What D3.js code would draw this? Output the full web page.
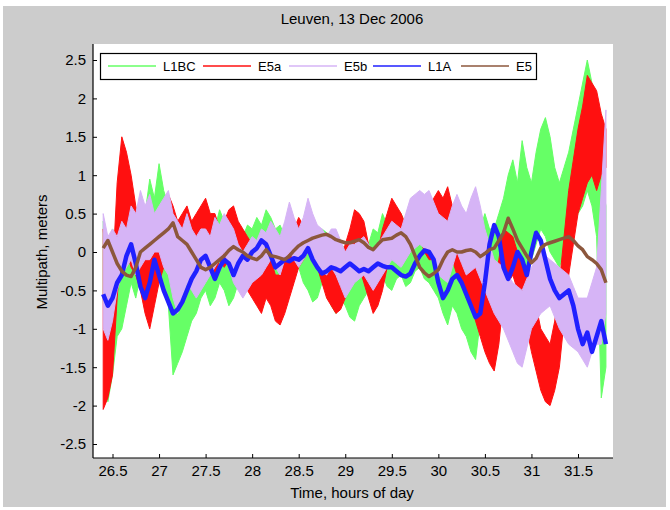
<!DOCTYPE html>
<html><head><meta charset="utf-8">
<script src="https://cdn.jsdelivr.net/npm/d3@7"></script>
<style>body{margin:0;background:#fff}svg{display:block}text{font-family:"Liberation Sans",Arial,sans-serif;fill:#000}</style>
</head><body>
<script>
// ---- data ----
const title = "Leuven, 13 Dec 2006";
const xLabel = "Time, hours of day";
const yLabel = "Multipath, meters";
const seriesNames = ["L1BC", "E5a", "E5b", "L1A", "E5"];
const seriesColors = ["#66ff66", "#ff1010", "#d6b4f6", "#2020ff", "#8c573c"];
const xTicks = [26.5, 27, 27.5, 28, 28.5, 29, 29.5, 30, 30.5, 31, 31.5];
const yTicks = [-2.5, -2, -1.5, -1, -0.5, 0, 0.5, 1, 1.5, 2, 2.5];

// sample times (hours), every 0.05 h
const tHours = [
  26.40,26.45,26.50,26.55,26.60,26.65,26.70,26.75,26.80,26.85,26.90,26.95,
  27.00,27.05,27.10,27.15,27.20,27.25,27.30,27.35,27.40,27.45,27.50,27.55,27.60,27.65,27.70,27.75,27.80,27.85,27.90,27.95,
  28.00,28.05,28.10,28.15,28.20,28.25,28.30,28.35,28.40,28.45,28.50,28.55,28.60,28.65,28.70,28.75,28.80,28.85,28.90,28.95,
  29.00,29.05,29.10,29.15,29.20,29.25,29.30,29.35,29.40,29.45,29.50,29.55,29.60,29.65,29.70,29.75,29.80,29.85,29.90,29.95,
  30.00,30.05,30.10,30.15,30.20,30.25,30.30,30.35,30.40,30.45,30.50,30.55,30.60,30.65,30.70,30.75,30.80,30.85,30.90,30.95,
  31.00,31.05,31.10,31.15,31.20,31.25,31.30,31.35,31.40,31.45,31.50,31.55,31.60,31.65,31.70,31.75,31.80];

// noisy signals: lower / upper envelope (meters)
const L1BC_lo = [
  -0.6,-1.95,-1.6,-1.1,-1.0,-0.7,-0.4,-0.6,-0.3,-0.5,-0.2,-0.4,
  -0.1,-0.5,-0.7,-1.6,-1.45,-1.3,-1.1,-0.9,-0.8,-0.6,-0.5,-0.7,-0.6,-0.4,-0.5,-0.7,-0.6,-0.4,-0.5,-0.3,
  -0.4,-0.5,-0.3,-0.35,-0.2,-0.4,-0.3,-0.45,-0.4,-0.3,-0.2,-0.4,-0.5,-0.65,-0.6,-0.4,-0.5,-0.7,-0.8,-0.6,
  -0.7,-0.85,-0.9,-0.7,-0.6,-0.5,-0.4,-0.5,-0.3,-0.45,-0.5,-0.35,-0.3,-0.45,-0.4,-0.25,-0.2,-0.35,-0.4,-0.5,
  -0.6,-0.8,-0.95,-0.7,-0.8,-1.0,-1.1,-1.3,-1.4,-0.9,-0.6,-0.8,-0.9,-0.5,-0.3,-0.1,0.1,-0.2,-0.4,-0.2,
  -0.1,0.1,0.3,0.2,0.0,-0.1,-0.2,0.0,0.2,0.3,0.5,0.6,0.8,0.6,0.2,-1.9,-1.5];
const L1BC_hi = [
  0.4,0.1,0.3,0.2,0.5,0.3,0.75,0.4,0.6,0.5,0.95,0.7,
  1.15,0.8,0.6,0.2,0.0,0.3,0.1,0.35,0.2,0.45,0.3,0.4,0.3,0.55,0.4,0.3,0.5,0.3,0.2,0.35,
  0.3,0.45,0.35,0.55,0.45,0.3,0.35,0.2,0.35,0.25,0.4,0.3,0.2,0.1,0.15,0.3,0.25,0.1,0.2,0.1,
  0.05,0.2,0.3,0.15,0.2,0.1,0.3,0.25,0.5,0.35,0.4,0.3,0.5,0.35,0.4,0.55,0.6,0.45,0.5,0.35,
  0.3,0.45,0.6,0.3,0.2,0.1,0.0,0.2,0.4,0.3,0.5,0.3,0.3,0.5,0.7,1.0,1.2,0.9,1.45,1.1,
  0.9,1.3,1.6,1.75,1.5,1.1,0.9,1.1,1.3,1.6,1.9,2.2,2.5,2.2,1.8,1.0,0.6];
const E5a_lo = [
  -2.05,-1.9,-1.6,-0.6,0.2,0.0,-0.2,-0.3,-0.5,-0.8,-1.0,-0.7,
  -0.4,-0.2,-0.1,-0.2,-0.3,-0.2,-0.1,-0.3,-0.3,0.0,0.1,-0.1,-0.3,-0.1,-0.2,-0.1,-0.2,-0.3,-0.3,-0.5,
  -0.6,-0.7,-0.8,-0.6,-0.7,-0.9,-0.95,-0.8,-0.6,-0.4,-0.2,-0.1,0.0,-0.1,-0.2,-0.4,-0.6,-0.7,-0.8,-0.75,
  -0.6,-0.3,-0.1,-0.2,-0.4,-0.6,-0.8,-0.7,-0.5,-0.2,0.0,-0.1,-0.1,0.0,0.0,0.1,0.2,0.0,-0.1,-0.1,
  0.0,0.1,0.1,-0.1,-0.3,-0.4,-0.6,-0.7,-0.9,-1.1,-1.3,-1.45,-1.55,-1.2,-0.6,-0.4,-0.3,-0.5,-0.8,-1.0,
  -1.3,-1.55,-1.8,-1.95,-2.0,-1.8,-1.5,-0.9,-0.3,0.1,0.5,0.7,0.9,1.0,0.8,1.0,1.1];
const E5a_hi = [
  0.3,-0.5,-0.3,0.9,1.5,1.3,1.0,0.6,0.3,0.2,0.1,0.2,
  0.3,0.5,0.75,0.6,0.4,0.5,0.6,0.4,0.5,0.6,0.7,0.5,0.5,0.3,0.4,0.55,0.6,0.4,0.3,0.2,
  0.1,-0.1,-0.2,0.0,-0.1,-0.3,-0.3,-0.1,0.1,0.3,0.45,0.35,0.55,0.4,0.3,0.25,0.2,0.1,0.0,-0.1,
  0.1,0.3,0.55,0.5,0.4,0.1,-0.2,0.0,0.3,0.5,0.7,0.6,0.5,0.35,0.4,0.6,0.75,0.65,0.6,0.7,
  0.8,0.7,0.85,0.6,0.5,0.3,0.2,0.1,0.0,-0.2,-0.3,-0.3,-0.4,-0.1,0.3,0.25,0.2,0.0,-0.1,-0.2,
  -0.4,-0.7,-1.0,-1.1,-1.2,-0.9,-0.4,0.2,0.8,1.2,1.6,1.9,2.3,2.2,2.1,1.8,1.6];
const E5b_lo = [
  -1.0,-1.15,-0.9,-0.5,-0.3,-0.2,-0.1,-0.3,-0.2,-0.1,-0.1,0.0,
  0.0,-0.2,-0.3,-0.6,-0.8,-0.6,-0.4,-0.5,-0.6,-0.5,-0.4,-0.3,-0.2,-0.1,0.0,-0.2,-0.4,-0.5,-0.6,-0.5,
  -0.4,-0.35,-0.3,-0.2,-0.1,-0.2,-0.3,-0.1,0.0,-0.1,-0.2,-0.1,0.0,-0.1,-0.2,-0.25,-0.3,-0.2,-0.3,-0.45,
  -0.6,-0.5,-0.4,-0.35,-0.3,-0.4,-0.5,-0.4,-0.3,-0.2,-0.1,-0.15,-0.2,-0.1,0.0,0.05,0.1,0.05,0.0,-0.15,
  -0.3,-0.35,-0.4,-0.2,0.0,-0.15,-0.3,-0.25,-0.2,-0.35,-0.5,-0.65,-0.8,-0.9,-1.0,-1.15,-1.3,-1.45,-1.5,-1.25,
  -1.0,-0.9,-0.8,-0.75,-0.7,-0.85,-1.0,-1.1,-1.2,-1.25,-1.3,-1.4,-1.5,-1.3,-1.2,-1.2,-0.8];
const E5b_hi = [
  0.5,0.2,0.3,0.2,0.4,0.3,0.6,0.5,0.8,0.6,0.75,0.5,
  0.6,0.7,0.8,0.5,0.4,0.3,0.5,0.3,0.2,0.3,0.3,0.2,0.45,0.35,0.5,0.4,0.3,0.1,0.0,0.1,
  0.2,0.15,0.3,0.25,0.4,0.3,0.2,0.4,0.65,0.45,0.3,0.45,0.7,0.5,0.35,0.3,0.2,0.3,0.3,0.15,
  0.0,0.1,0.1,0.15,0.2,0.1,0.0,0.1,0.2,0.3,0.4,0.35,0.3,0.5,0.7,0.75,0.8,0.75,0.8,0.65,
  0.5,0.45,0.4,0.6,0.75,0.6,0.5,0.7,0.85,0.6,0.3,0.1,-0.1,-0.15,-0.2,-0.3,-0.4,-0.45,-0.5,-0.35,
  -0.2,-0.1,0.0,-0.05,-0.1,-0.15,-0.2,-0.25,-0.3,-0.45,-0.6,-0.6,-0.6,-0.4,-0.2,0.8,1.85];

// smoother signals (meters)
const L1A = [
  -0.55,-0.7,-0.6,-0.4,-0.3,-0.05,0.1,-0.15,-0.45,-0.6,-0.4,-0.1,
  -0.3,-0.5,-0.65,-0.8,-0.75,-0.65,-0.5,-0.35,-0.25,-0.1,-0.05,-0.2,-0.35,-0.2,-0.1,-0.15,-0.3,-0.15,-0.05,-0.1,
  0.0,0.05,0.15,0.1,-0.05,-0.2,-0.15,-0.1,-0.12,-0.08,-0.1,-0.05,0.05,-0.1,-0.2,-0.28,-0.25,-0.2,-0.22,-0.25,
  -0.2,-0.15,-0.2,-0.25,-0.22,-0.25,-0.2,-0.15,-0.18,-0.2,-0.2,-0.25,-0.3,-0.32,-0.28,-0.15,-0.05,0.02,0.0,-0.1,
  -0.4,-0.6,-0.5,-0.35,-0.3,-0.4,-0.55,-0.7,-0.85,-0.8,-0.4,0.1,0.35,0.2,-0.2,-0.35,-0.2,0.0,-0.1,-0.3,
  0.0,0.25,0.15,-0.1,-0.35,-0.5,-0.6,-0.55,-0.5,-0.7,-1.0,-1.2,-1.05,-1.3,-1.1,-0.9,-1.2];
const E5 = [
  0.05,0.15,0.0,-0.15,-0.25,-0.3,-0.32,-0.2,0.0,0.05,0.1,0.15,
  0.2,0.25,0.3,0.38,0.2,0.15,0.1,0.0,-0.1,-0.2,-0.23,-0.2,-0.15,-0.1,-0.05,0.02,0.07,0.03,0.0,-0.05,
  -0.08,-0.1,-0.05,0.03,-0.05,-0.06,-0.08,-0.1,-0.05,0.02,0.08,0.12,0.15,0.18,0.2,0.22,0.23,0.2,0.16,0.14,
  0.12,0.12,0.14,0.16,0.12,0.06,0.03,0.1,0.16,0.17,0.18,0.22,0.25,0.2,0.1,-0.05,-0.2,-0.27,-0.32,-0.28,
  -0.23,-0.1,0.0,0.03,0.0,0.0,0.02,0.03,0.0,-0.06,-0.02,0.03,0.05,0.15,0.25,0.44,0.3,0.15,0.05,-0.05,
  -0.14,-0.08,0.05,0.1,0.12,0.14,0.16,0.18,0.2,0.15,0.08,0.03,-0.06,-0.1,-0.15,-0.23,-0.4];

// ---- drawing ----
const W = 670, H = 510;
const svg = d3.select("body").append("svg").attr("width", W).attr("height", H);
svg.append("rect").attr("x", 3).attr("y", 6).attr("width", 663).attr("height", 501).attr("fill", "#cccccc");

const plot = {left: 93, right: 613, top: 44, bottom: 458};
const x = d3.scaleLinear().domain([26.5, 31.5]).range([112.5, 578]);
const y = d3.scaleLinear().domain([-2.5, 2.5]).range([444, 60]);

svg.append("rect").attr("x", plot.left).attr("y", plot.top)
  .attr("width", plot.right - plot.left).attr("height", plot.bottom - plot.top).attr("fill", "#fff");

svg.append("clipPath").attr("id", "clip").append("rect")
  .attr("x", plot.left).attr("y", plot.top).attr("width", plot.right - plot.left).attr("height", plot.bottom - plot.top);
const g = svg.append("g").attr("clip-path", "url(#clip)");

const bands = [[L1BC_lo, L1BC_hi], [E5a_lo, E5a_hi], [E5b_lo, E5b_hi]];
bands.forEach((b, k) => {
  const area = d3.area().x((d, i) => x(tHours[i])).y0((d, i) => y(b[0][i])).y1((d, i) => y(b[1][i]));
  g.append("path").datum(tHours).attr("d", area)
    .attr("fill", seriesColors[k]).attr("stroke", seriesColors[k]).attr("stroke-width", 1);
});
const line = arr => d3.line().x((d, i) => x(tHours[i])).y((d, i) => y(arr[i]));
g.append("path").datum(tHours).attr("d", line(L1A)).attr("fill", "none")
  .attr("stroke", seriesColors[3]).attr("stroke-width", 4.5).attr("stroke-linejoin", "round");
g.append("path").datum(tHours).attr("d", line(E5)).attr("fill", "none")
  .attr("stroke", seriesColors[4]).attr("stroke-width", 3.5).attr("stroke-linejoin", "round");

// axes
const xAxis = d3.axisBottom(x).tickValues(xTicks).tickSize(-4).tickPadding(7).tickFormat(d => String(d));
const gx = svg.append("g").attr("transform", `translate(0,${plot.bottom})`).call(xAxis);
gx.select(".domain").attr("d", `M${plot.left},0H${plot.right}`);
const yAxis = d3.axisLeft(y).tickValues(yTicks).tickSize(-4).tickPadding(7).tickFormat(d => String(d));
const gy = svg.append("g").attr("transform", `translate(${plot.left},0)`).call(yAxis);
gy.select(".domain").attr("d", `M0,${plot.top}V${plot.bottom}`);
[gx, gy].forEach(a => {
  a.selectAll(".domain").attr("stroke", "#000").attr("stroke-width", 1.2);
  a.selectAll(".tick line").attr("stroke", "#000");
  a.selectAll("text").attr("font-size", 15).attr("font-family", '"Liberation Sans", Arial, sans-serif').attr("fill", "#000");
});

svg.append("text").attr("x", 352).attr("y", 24).attr("text-anchor", "middle").attr("font-size", 15).text(title);
svg.append("text").attr("x", 352).attr("y", 498).attr("text-anchor", "middle").attr("font-size", 15).text(xLabel);
svg.append("text").attr("transform", "translate(47,252) rotate(-90)").attr("text-anchor", "middle").attr("font-size", 15).text(yLabel);

// legend
const legX = [108, 203, 289, 373, 461];
const lg = svg.append("g");
lg.append("rect").attr("x", 100.5).attr("y", 53.5).attr("width", 436).attr("height", 26)
  .attr("fill", "#fff").attr("stroke", "#000").attr("stroke-width", 1.2);
seriesNames.forEach((n, i) => {
  lg.append("line").attr("x1", legX[i]).attr("x2", legX[i] + 48).attr("y1", 66).attr("y2", 66)
    .attr("stroke", seriesColors[i]).attr("stroke-width", 1.5);
  lg.append("text").attr("x", legX[i] + 55).attr("y", 71).attr("font-size", 13).text(n);
});
</script>
</body></html>
